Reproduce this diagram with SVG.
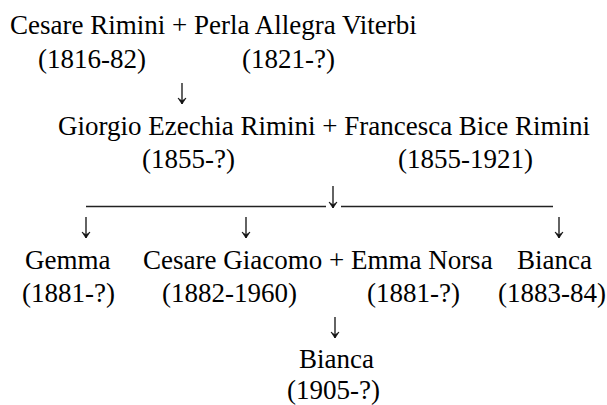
<svg xmlns="http://www.w3.org/2000/svg" width="607" height="405" viewBox="0 0 607 405">
<style>
text{font-family:"Liberation Serif","Times New Roman",serif;font-size:27px;fill:#000}
.arr{stroke:#222;stroke-width:1.4;fill:none;marker-end:url(#head)}
.bar{stroke:#222;stroke-width:1.3;fill:none}
</style>
<defs>
<marker id="head" markerUnits="userSpaceOnUse" markerWidth="12" markerHeight="10" viewBox="-6 -8 12 10" refX="0" refY="0" orient="0">
<path d="M-4,-6 L0,0 L4,-6 L0,-3 Z" fill="#111" stroke="#111" stroke-width="0.8" stroke-linejoin="round"/>
</marker>
</defs>
<rect width="607" height="405" fill="#fff"/>
<g id="gen1">
<text x="10" y="34">Cesare Rimini + Perla Allegra Viterbi</text>
<text x="38" y="67.5">(1816-82)</text>
<text x="242" y="67.5">(1821-?)</text>
</g>
<g id="gen2">
<text x="58" y="134.5">Giorgio Ezechia Rimini + Francesca Bice Rimini</text>
<text x="142" y="168">(1855-?)</text>
<text x="398" y="168">(1855-1921)</text>
</g>
<g id="gemma">
<text x="25" y="268.5">Gemma</text>
<text x="22" y="302">(1881-?)</text>
</g>
<g id="cesare-giacomo">
<text x="143" y="268.5">Cesare Giacomo + Emma Norsa</text>
<text x="162" y="302">(1882-1960)</text>
<text x="367" y="302">(1881-?)</text>
</g>
<g id="bianca1">
<text x="517" y="268.5">Bianca</text>
<text x="498" y="302">(1883-84)</text>
</g>
<g id="bianca2">
<text x="299" y="368">Bianca</text>
<text x="287" y="398.5">(1905-?)</text>
</g>
<g id="connectors">
<path class="arr" d="M182,83 V104"/>
<path class="bar" d="M86,206.5 H326 M341,206.5 H553"/>
<path class="arr" d="M333,186 V208"/>
<path class="arr" d="M86,217 V238"/>
<path class="arr" d="M246,217 V238"/>
<path class="arr" d="M559,217 V238"/>
<path class="arr" d="M335,317 V338"/>
</g>
</svg>
